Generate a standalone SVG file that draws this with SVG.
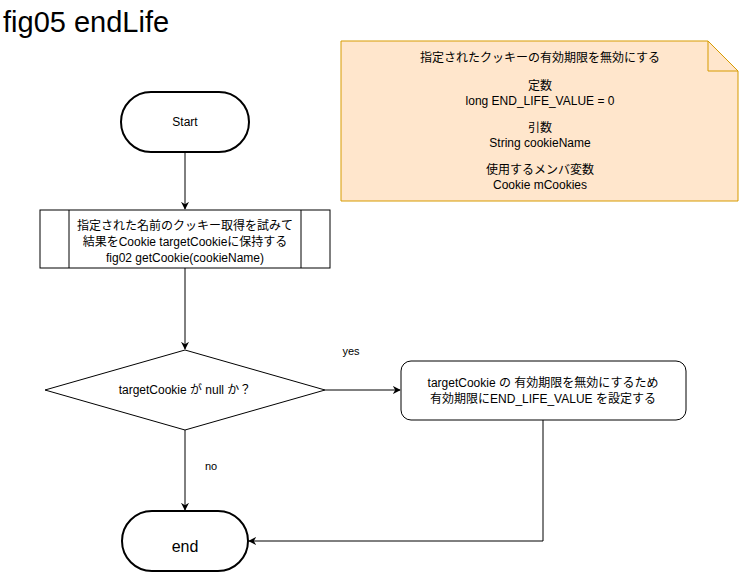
<svg xmlns="http://www.w3.org/2000/svg" width="741" height="572" viewBox="0 0 741 572">
<defs>
<style>
text{font-family:"Liberation Sans","Noto Sans CJK JP",sans-serif;fill:#000}
.t12{font-size:12px;text-anchor:middle}
.shape{fill:#fff;stroke:#000;stroke-width:1}
.term{fill:#fff;stroke:#000;stroke-width:2}
.edge{fill:none;stroke:#000;stroke-width:1}
</style>
<marker id="arr" viewBox="0 0 10 10" refX="9" refY="5" markerWidth="8" markerHeight="8" markerUnits="userSpaceOnUse" orient="auto">
<path d="M0,0 L10,5 L0,10 L3,5 Z" fill="#000"/>
</marker>
</defs>
<rect width="741" height="572" fill="#fff"/>
<text x="3" y="32" style="font-size:29px">fig05 endLife</text>

<g id="note">
<path d="M341,41 H708 L738,71 V201 H341 Z" fill="#ffe6cc" stroke="#d79b00"/>
<path d="M708,41 V71 H738" fill="none" stroke="#d79b00"/>
<text class="t12" x="540" y="62">指定されたクッキーの有効期限を無効にする</text>
<text class="t12" x="540" y="90">定数</text>
<text class="t12" x="540" y="105">long END_LIFE_VALUE = 0</text>
<text class="t12" x="540" y="132">引数</text>
<text class="t12" x="540" y="147">String cookieName</text>
<text class="t12" x="540" y="174">使用するメンバ変数</text>
<text class="t12" x="540" y="189">Cookie mCookies</text>
</g>

<g id="start">
<rect class="term" x="121" y="92" width="128" height="60" rx="30"/>
<text class="t12" x="185" y="126">Start</text>
</g>

<g id="process">
<rect class="shape" x="40" y="210" width="290" height="58"/>
<line class="edge" x1="69" y1="210" x2="69" y2="268"/>
<line class="edge" x1="301" y1="210" x2="301" y2="268"/>
<text class="t12" x="185" y="230">指定された名前のクッキー取得を試みて</text>
<text class="t12" x="185" y="246">結果をCookie targetCookieに保持する</text>
<text class="t12" x="185" y="262">fig02 getCookie(cookieName)</text>
</g>

<g id="decision">
<path class="shape" d="M45,390 L185,350 L325,390 L185,430 Z"/>
<text class="t12" x="185" y="394">targetCookie が null か？</text>
</g>

<g id="setexpire">
<rect class="shape" x="401" y="361" width="285" height="59" rx="10"/>
<text class="t12" x="543" y="387">targetCookie の 有効期限を無効にするため</text>
<text class="t12" x="543" y="403">有効期限にEND_LIFE_VALUE を設定する</text>
</g>

<g id="end">
<rect class="term" x="122" y="511" width="126" height="60" rx="30"/>
<text x="185" y="552" style="font-size:16px;text-anchor:middle">end</text>
</g>

<g id="connectors">
<line class="edge" x1="185" y1="152" x2="185" y2="209" marker-end="url(#arr)"/>
<line class="edge" x1="185" y1="268" x2="185" y2="349" marker-end="url(#arr)"/>
<line class="edge" x1="325" y1="390" x2="400" y2="390" marker-end="url(#arr)"/>
<text x="351" y="355" style="font-size:11px;text-anchor:middle">yes</text>
<line class="edge" x1="185" y1="430" x2="185" y2="510" marker-end="url(#arr)"/>
<text x="211" y="470" style="font-size:11px;text-anchor:middle">no</text>
<path class="edge" d="M543,420 V541 H249" marker-end="url(#arr)"/>
</g>
</svg>
